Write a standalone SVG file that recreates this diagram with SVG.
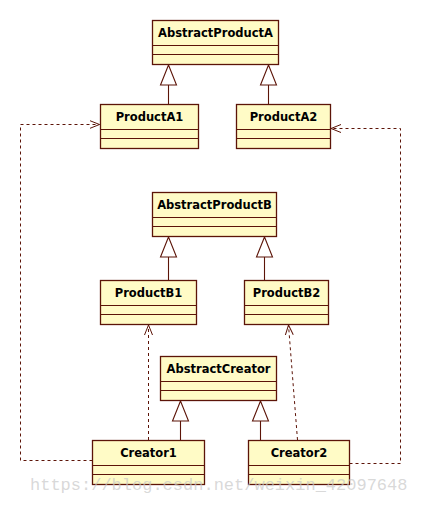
<svg xmlns="http://www.w3.org/2000/svg" width="421" height="505" viewBox="0 0 421 505">
<defs>
<style>
.box{fill:#FFFBC6;stroke:#5C1408;stroke-width:1.3}
.sep{stroke:#5C1408;stroke-width:1.1}
.t{font-family:"DejaVu Sans",Verdana,sans-serif;font-weight:bold;font-size:11.5px;fill:#000;text-anchor:middle}
.gen{stroke:#5C1408;stroke-width:1.1;fill:none}
.tri{fill:#fff;stroke:#5C1408;stroke-width:1.1}
.dep{stroke:#5C1408;stroke-width:1;fill:none;stroke-dasharray:3,3}
.wm{font-family:"Liberation Mono","DejaVu Sans Mono",monospace;font-size:17px;fill:#c8c8c8;fill-opacity:0.7}
</style>
<marker id="open" viewBox="0 0 10 10" refX="10" refY="5" markerWidth="10" markerHeight="10" markerUnits="userSpaceOnUse" orient="auto">
<path d="M0,1 L10,5 L0,9" fill="none" stroke="#5C1408" stroke-width="1"/>
</marker>
</defs>
<rect width="421" height="505" fill="#fff"/>

<g id="connectors">
<!-- generalizations -->
<line class="gen" x1="168.5" y1="85" x2="168.5" y2="104"/>
<polygon class="tri" points="168.5,65 160.5,85 176.5,85"/>
<line class="gen" x1="268.5" y1="85" x2="268.5" y2="104"/>
<polygon class="tri" points="268.5,65 260.5,85 276.5,85"/>
<line class="gen" x1="168.5" y1="257" x2="168.5" y2="280"/>
<polygon class="tri" points="168.5,237 160.5,257 176.5,257"/>
<line class="gen" x1="264.5" y1="257" x2="264.5" y2="280"/>
<polygon class="tri" points="264.5,237 256.5,257 272.5,257"/>
<line class="gen" x1="180.5" y1="421" x2="180.5" y2="440"/>
<polygon class="tri" points="180.5,401 172.5,421 188.5,421"/>
<line class="gen" x1="260.5" y1="421" x2="260.5" y2="440"/>
<polygon class="tri" points="260.5,401 252.5,421 268.5,421"/>
<!-- dependencies -->
<polyline class="dep" points="92.5,460.5 20.5,460.5 20.5,124.5 99.5,124.5" marker-end="url(#open)"/>
<polyline class="dep" points="349.5,463.5 400.5,463.5 400.5,128.5 331,128.5" marker-end="url(#open)"/>
<line class="dep" x1="148.5" y1="440" x2="148.5" y2="325" marker-end="url(#open)"/>
<line class="dep" x1="297.5" y1="440" x2="288.5" y2="325" marker-end="url(#open)"/>
</g>

<g id="AbstractProductA">
<rect class="box" x="152.5" y="20.5" width="126" height="44"/>
<line class="sep" x1="152.5" y1="45.5" x2="278.5" y2="45.5"/>
<line class="sep" x1="152.5" y1="54.5" x2="278.5" y2="54.5"/>
<text class="t" x="215.5" y="37">AbstractProductA</text>
</g>
<g id="ProductA1">
<rect class="box" x="100.5" y="104.5" width="98" height="44"/>
<line class="sep" x1="100.5" y1="129.5" x2="198.5" y2="129.5"/>
<line class="sep" x1="100.5" y1="138.5" x2="198.5" y2="138.5"/>
<text class="t" x="149.5" y="121">ProductA1</text>
</g>
<g id="ProductA2">
<rect class="box" x="236.5" y="104.5" width="94" height="44"/>
<line class="sep" x1="236.5" y1="129.5" x2="330.5" y2="129.5"/>
<line class="sep" x1="236.5" y1="138.5" x2="330.5" y2="138.5"/>
<text class="t" x="283.5" y="121">ProductA2</text>
</g>
<g id="AbstractProductB">
<rect class="box" x="152.5" y="192.5" width="124" height="44"/>
<line class="sep" x1="152.5" y1="217.5" x2="276.5" y2="217.5"/>
<line class="sep" x1="152.5" y1="226.5" x2="276.5" y2="226.5"/>
<text class="t" x="214.5" y="209">AbstractProductB</text>
</g>
<g id="ProductB1">
<rect class="box" x="100.5" y="280.5" width="96" height="44"/>
<line class="sep" x1="100.5" y1="305.5" x2="196.5" y2="305.5"/>
<line class="sep" x1="100.5" y1="314.5" x2="196.5" y2="314.5"/>
<text class="t" x="148.5" y="297">ProductB1</text>
</g>
<g id="ProductB2">
<rect class="box" x="244.5" y="280.5" width="84" height="44"/>
<line class="sep" x1="244.5" y1="305.5" x2="328.5" y2="305.5"/>
<line class="sep" x1="244.5" y1="314.5" x2="328.5" y2="314.5"/>
<text class="t" x="286.5" y="297">ProductB2</text>
</g>
<g id="AbstractCreator">
<rect class="box" x="160.5" y="356.5" width="116" height="44"/>
<line class="sep" x1="160.5" y1="381.5" x2="276.5" y2="381.5"/>
<line class="sep" x1="160.5" y1="390.5" x2="276.5" y2="390.5"/>
<text class="t" x="218.5" y="373">AbstractCreator</text>
</g>
<g id="Creator1">
<rect class="box" x="92.5" y="440.5" width="112" height="44"/>
<line class="sep" x1="92.5" y1="465.5" x2="204.5" y2="465.5"/>
<line class="sep" x1="92.5" y1="474.5" x2="204.5" y2="474.5"/>
<text class="t" x="148.5" y="457">Creator1</text>
</g>
<g id="Creator2">
<rect class="box" x="248.5" y="440.5" width="101" height="44"/>
<line class="sep" x1="248.5" y1="465.5" x2="349.5" y2="465.5"/>
<line class="sep" x1="248.5" y1="474.5" x2="349.5" y2="474.5"/>
<text class="t" x="299" y="457">Creator2</text>
</g>

<text class="wm" x="30" y="490">https://blog.csdn.net/weixin_42097648</text>
</svg>
